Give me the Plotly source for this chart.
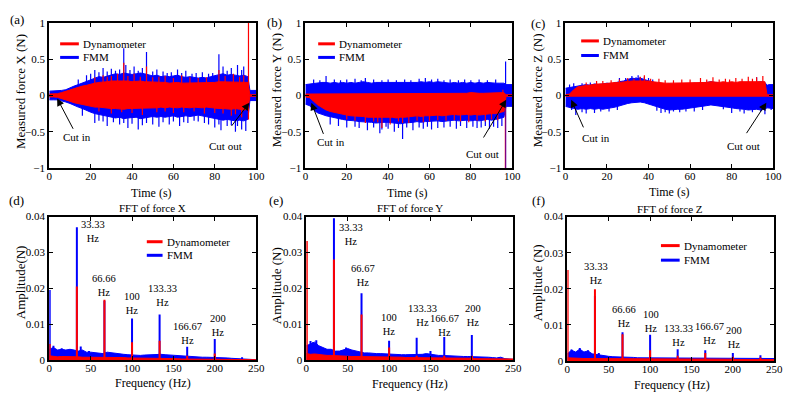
import plotly.graph_objects as go

W, H = 797, 401
FONT = "Liberation Serif, 'Times New Roman', Times, 'DejaVu Serif', serif"
RED = "#ff0000"
BLUE = "#0000ff"

# ---------------- time-domain data (envelopes) ----------------
TIME = [0, 2, 4, 6, 8, 10, 12, 14, 16, 18, 20, 22, 24, 26, 28, 30, 32, 34, 36, 38,
        40, 42, 44, 46, 48, 50, 52, 54, 56, 58, 60, 62, 64, 66, 68, 70, 72, 74, 76, 78,
        80, 82, 84, 86, 88, 90, 92, 94, 96, 97, 98, 100]

X_FMM_UP = [.06, .06, .06, .07, .08, .11, .13, .15, .17, .2, .22, .24, .26, .25, .27, .28, .3, .29, .31, .3,
            .29, .3, .31, .3, .28, .27, .28, .26, .27, .26, .27, .28, .26, .25, .26, .25, .24, .25, .24, .26,
            .27, .29, .3, .28, .29, .28, .27, .28, .26, .07, .07, .07]
X_FMM_LO = [-.06, -.06, -.06, -.07, -.09, -.11, -.13, -.16, -.18, -.2, -.23, -.25, -.27, -.28, -.29, -.3, -.31, -.3, -.32, -.31,
            -.3, -.3, -.32, -.31, -.3, -.29, -.3, -.29, -.3, -.29, -.28, -.3, -.29, -.28, -.29, -.28, -.27, -.28, -.29, -.3,
            -.31, -.33, -.34, -.33, -.34, -.35, -.34, -.35, -.33, -.07, -.07, -.07]
X_DYN_UP = [.02, .02, .025, .04, .06, .08, .1, .12, .13, .14, .16, .17, .18, .18, .19, .2, .2, .21, .2, .2,
            .19, .2, .2, .19, .19, .18, .19, .18, .18, .17, .18, .18, .17, .17, .18, .17, .17, .18, .17, .18,
            .18, .19, .19, .18, .19, .18, .18, .19, .18, .01, .01, .01]
X_DYN_LO = [-.02, -.02, -.025, -.04, -.06, -.08, -.1, -.11, -.12, -.13, -.15, -.16, -.16, -.17, -.17, -.18, -.18, -.18, -.19, -.18,
            -.18, -.17, -.18, -.18, -.17, -.17, -.17, -.16, -.17, -.16, -.16, -.17, -.16, -.16, -.17, -.16, -.16, -.17, -.16, -.17,
            -.17, -.18, -.18, -.18, -.19, -.18, -.19, -.2, -.19, -.01, -.01, -.01]
X_FMM_SPIKE_T = [14, 18, 20, 22, 24, 26, 28, 30, 32, 34, 36, 37, 39, 41, 43, 45, 47, 50, 52, 55,
                 57, 59, 62, 64, 66, 69, 71, 74, 77, 79, 82, 84, 86, 88, 91, 93, 94,
                 16, 22, 24, 26, 28, 31, 34, 36, 38, 40, 43, 45, 47, 50, 53, 55, 58, 60, 63, 65,
                 67, 70, 72, 75, 77, 80, 82, 83, 86, 88, 90, 91, 93, 95]
X_FMM_SPIKE_V = [.22, .28, .3, .35, .32, .38, .33, .37, .34, .36, .65, .42, .35, .4, .34, .38, .6, .33, .36, .33,
                 .31, .32, .36, .31, .34, .3, .31, .32, .3, .31, .57, .4, .34, .38, .42, .35, .4,
                 -.28, -.38, -.35, -.36, -.42, -.37, -.4, -.38, -.45, -.39, -.47, -.41, -.38, -.4, -.43, -.37, -.4, -.36, -.42, -.37,
                 -.38, -.35, -.36, -.38, -.4, -.44, -.4, -.48, -.42, -.41, -.5, -.42, -.47, -.49]
X_DYN_SPIKE_T = [22, 26, 28, 30, 33, 36, 38, 41, 44, 47, 50, 53, 56, 60, 64, 68, 72, 76, 82, 85, 89, 92, 94, 96.3,
                 24, 30, 35, 40, 45, 52, 56, 60, 65, 70, 75, 80, 84, 88, 90, 93, 96.3]
X_DYN_SPIKE_V = [.25, .28, .26, .27, .3, .45, .27, .3, .26, .4, .25, .26, .27, .24, .28, .25, .24, .25, .35, .27, .3, .26, .28, 1.0,
                 -.22, -.25, -.23, -.24, -.27, -.23, -.22, -.24, -.23, -.22, -.25, -.24, -.25, -.28, -.26, -.3, -.33]

Y_FMM_UP = [.15, .16, .17, .17, .18, .18, .17, .18, .17, .18, .17, .18, .17, .18, .19, .18, .17, .18, .18, .17,
            .18, .17, .18, .17, .18, .17, .18, .18, .19, .18, .19, .18, .19, .18, .18, .17, .18, .17, .18, .17,
            .18, .17, .18, .17, .18, .17, .17, .17, .17, .15, .15, .15]
Y_FMM_LO = [-.12, -.14, -.2, -.24, -.26, -.28, -.3, -.31, -.32, -.33, -.34, -.35, -.35, -.36, -.36, -.37, -.37, -.38, -.38, -.37,
            -.37, -.38, -.38, -.39, -.38, -.37, -.37, -.36, -.37, -.36, -.36, -.35, -.35, -.36, -.35, -.35, -.34, -.35, -.35, -.34,
            -.35, -.34, -.35, -.34, -.33, -.34, -.33, -.32, -.3, -.15, -.15, -.15]
Y_DYN_UP = [.02, .02, .03, .03, .03, .02, .03, .03, .03, .03, .02, .03, .03, .03, .03, .03, .02, .03, .03, .03,
            .03, .03, .02, .03, .03, .03, .03, .03, .03, .02, .03, .03, .03, .03, .03, .02, .03, .03, .03, .03,
            .04, .03, .03, .03, .03, .04, .03, .04, .04, .01, .01, .01]
Y_DYN_LO = [-.02, -.03, -.08, -.13, -.17, -.2, -.22, -.24, -.25, -.26, -.27, -.28, -.28, -.29, -.29, -.3, -.3, -.3, -.31, -.3,
            -.3, -.3, -.31, -.3, -.3, -.29, -.29, -.28, -.29, -.28, -.28, -.28, -.27, -.28, -.27, -.27, -.26, -.27, -.27, -.26,
            -.27, -.26, -.27, -.26, -.26, -.25, -.25, -.24, -.22, -.01, -.01, -.01]
Y_FMM_SPIKE_T = [4, 7, 10, 14, 17, 20, 24, 27, 29, 33, 37, 40, 44, 48, 51, 55, 58, 61, 64, 67, 70, 74, 77, 80, 84, 88, 92, 96.8,
                 12, 16, 20, 24, 26, 30, 33, 36, 37, 39, 40, 43, 45, 47, 49, 52, 55, 57, 59, 61, 64, 67, 70, 73, 75, 78,
                 81, 83, 85, 87, 89, 91, 93, 95, 96.8]
Y_FMM_SPIKE_V = [.22, .21, .27, .22, .21, .22, .23, .21, .24, .22, .21, .22, .21, .22, .21, .23, .24, .22, .23, .21, .22, .21, .22, .21, .22, .21, .22, .47,
                 -.4, -.42, -.44, -.43, -.45, -.48, -.44, -.52, -.47, -.43, -.46, -.5, -.45, -.6, -.44, -.48, -.44, -.46, -.43, -.47, -.45, -.44, -.43, -.46, -.42, -.45,
                 -.43, -.45, -.44, -.42, -.46, -.43, -.45, -.42, -1.0]
Y_DYN_SPIKE_T = [20, 24, 29, 33, 35, 37, 41, 45, 47, 50, 54, 57, 60, 64, 68, 72, 75, 79, 83, 87, 90, 93, 95.5]
Y_DYN_SPIKE_V = [-.33, -.35, -.38, -.36, -.37, -.45, -.4, -.36, -.38, -.38, -.35, -.37, -.36, -.34, -.35, -.34, -.36, -.37, -.35, -.36, -.33, -.34, .08]
Y_DYN_DROP_T = [96.7]
Y_DYN_DROP_V = [-1.0]

Z_FMM_UP = [.1, .11, .13, .14, .14, .15, .14, .16, .15, .16, .17, .16, .18, .19, .2, .22, .24, .23, .24, .22,
            .2, .18, .17, .16, .15, .16, .15, .16, .16, .15, .16, .17, .16, .17, .18, .19, .18, .17, .16, .17,
            .16, .17, .16, .17, .18, .17, .18, .19, .18, .14, .15, .15]
Z_FMM_LO = [-.15, -.16, -.18, -.19, -.18, -.19, -.18, -.19, -.18, -.19, -.18, -.17, -.16, -.15, -.13, -.11, -.1, -.09, -.09, -.1,
            -.11, -.13, -.15, -.17, -.19, -.2, -.2, -.19, -.19, -.18, -.17, -.16, -.15, -.15, -.14, -.13, -.13, -.14, -.15, -.16,
            -.17, -.18, -.19, -.19, -.2, -.2, -.19, -.2, -.19, -.17, -.17, -.18]
Z_DYN_UP = [.01, .02, .08, .12, .13, .14, .15, .15, .16, .16, .17, .17, .18, .18, .19, .19, .2, .2, .2, .21,
            .2, .19, .18, .18, .17, .17, .17, .18, .17, .17, .18, .18, .17, .18, .18, .19, .18, .18, .19, .18,
            .19, .18, .19, .19, .2, .19, .2, .2, .19, .01, .01, .01]
Z_DYN_LO = [-.01, -.01, -.02, -.02, -.02, -.02, -.02, -.02, -.02, -.02, -.02, -.02, -.02, -.02, -.02, -.02, -.02, -.02, -.02, -.02,
            -.02, -.02, -.02, -.02, -.02, -.02, -.02, -.02, -.02, -.02, -.02, -.02, -.02, -.02, -.02, -.02, -.02, -.02, -.02, -.02,
            -.02, -.02, -.02, -.02, -.02, -.02, -.02, -.02, -.02, -.01, -.01, -.01]
Z_FMM_SPIKE_T = [2, 4, 8, 12, 26, 29, 32, 34, 35, 36, 38, 40, 42, 92,
                 3, 5, 8, 10, 14, 17, 21, 25, 44, 46, 48, 50, 52, 55, 58, 62, 66, 76, 80, 84, 86, 90, 94, 96, 99]
Z_FMM_SPIKE_V = [.15, .17, .17, .18, .24, .24, .27, .25, .28, .25, .26, .24, .22, .25,
                 -.2, -.27, -.23, -.25, -.24, -.22, -.22, -.2, -.21, -.24, -.23, -.25, -.22, -.23, -.22, -.22, -.2, -.19, -.24, -.22, -.25, -.23, -.22, -.26, -.2]
Z_DYN_SPIKE_T = [10, 15, 18, 22, 26, 30, 33, 36, 38, 41, 45, 48, 52, 56, 60, 65, 68, 71, 74, 77, 79, 82, 85, 88, 90, 92, 95]
Z_DYN_SPIKE_V = [.18, .2, .2, .21, .22, .24, .23, .26, .28, .23, .23, .21, .21, .22, .22, .24, .22, .25, .22, .23, .22, .24, .23, .26, .23, .25, .27]

# ---------------- frequency-domain data ----------------
FREQ = [0, 5, 10, 15, 20, 25, 30, 35, 40, 45, 50, 55, 60, 65, 70, 75, 80, 85, 90, 95,
        100, 105, 110, 115, 120, 125, 130, 135, 140, 145, 150, 155, 160, 165, 170, 175, 180, 185, 190, 195,
        200, 205, 210, 215, 220, 225, 230, 235, 240, 245, 250]

FX_FMM_FLOOR = [.003, .0035, .0028, .003, .0028, .003, .0028, .0025, .0028, .0022, .0022, .002, .002, .0018, .0022, .002, .0018, .0016, .0016, .0015,
                .0014, .0014, .0013, .0014, .0015, .0016, .0017, .0016, .0015, .0014, .0013, .0012, .0011, .001, .001, .0009, .0009, .0008, .0008, .0008,
                .0007, .0007, .0008, .0006, .0005, .0004, .0004, .0003, .0002, .0002, .0001]
FX_DYN_FLOOR = [.0012, .001, .0009, .001, .001, .0011, .001, .0009, .0008, .0008, .0008, .0008, .0008, .0008, .0009, .0008, .0008, .0007, .0007, .0006,
                .0006, .0005, .0005, .0005, .0005, .0005, .0005, .0005, .0004, .0004, .0004, .0004, .0003, .0003, .0003, .0003, .0003, .0003, .0003, .0003,
                .0003, .0003, .0002, .0002, .0002, .0002, .0002, .0002, .0002, .0002, .0001]
FX_FMM_PEAK_F = [0.5, 5, 15, 33.33, 38, 48, 66.66, 100, 133.33, 166.67, 200, 233]
FX_FMM_PEAK_A = [.0195, .004, .0033, .037, .0038, .0025, .0165, .0116, .0127, .0037, .0059, .0008]
FX_DYN_PEAK_F = [0.5, 33.33, 66.66, 100, 133.33, 166.67, 200]
FX_DYN_PEAK_A = [.0045, .0205, .0168, .005, .0054, .0012, .0018]

FY_FMM_FLOOR = [.004, .0045, .005, .004, .0035, .003, .003, .0025, .0025, .0028, .0032, .0028, .0025, .0022, .002, .002, .0018, .0018, .0018, .0017,
                .0016, .0016, .0015, .0015, .0015, .0015, .0015, .0016, .0016, .0018, .0016, .0014, .0013, .0013, .0012, .0012, .0011, .0011, .001, .001,
                .001, .0009, .0009, .0008, .0008, .0007, .0006, .0008, .0004, .0003, .0002]
FY_DYN_FLOOR = [.0018, .0016, .0017, .0015, .0014, .0013, .0013, .0012, .0011, .0011, .0011, .001, .001, .001, .001, .001, .0009, .0009, .0009, .0009,
                .0008, .0008, .0008, .0008, .0007, .0007, .0007, .0007, .0007, .0006, .0006, .0006, .0006, .0006, .0005, .0005, .0005, .0005, .0005, .0005,
                .0005, .0004, .0004, .0004, .0004, .0004, .0003, .0003, .0003, .0003, .0003]
FY_FMM_PEAK_F = [5, 8, 12, 33.33, 48, 66.67, 100, 133.33, 150, 166.67, 200, 233]
FY_FMM_PEAK_A = [.0053, .005, .0055, .0395, .0035, .0186, .0054, .0062, .0025, .0064, .007, .0008]
FY_DYN_PEAK_F = [0.5, 33.33, 66.67, 100, 133.33, 166.67, 200]
FY_DYN_PEAK_A = [.0332, .028, .0127, .0035, .0012, .0012, .0012]

FZ_FMM_FLOOR = [.002, .003, .0025, .0033, .0025, .0028, .002, .0018, .0015, .0014, .0013, .0012, .0012, .001, .001, .001, .001, .0009, .0009, .0009,
                .0009, .0009, .0008, .0008, .0008, .0008, .0008, .0008, .0008, .0008, .0008, .0008, .0008, .0008, .0008, .0008, .0008, .0008, .0008, .0008,
                .0008, .0007, .0007, .0007, .0007, .0007, .0007, .0007, .0007, .0007, .0007]
FZ_DYN_FLOOR = [.0009, .0008, .0008, .0008, .0007, .0007, .0007, .0007, .0006, .0006, .0006, .0006, .0006, .0006, .0006, .0006, .0006, .0006, .0006, .0006,
                .0005, .0005, .0005, .0005, .0005, .0005, .0005, .0005, .0005, .0005, .0005, .0005, .0005, .0005, .0005, .0005, .0005, .0005, .0005, .0005,
                .0005, .0004, .0004, .0004, .0004, .0004, .0004, .0004, .0004, .0004, .0004]
FZ_FMM_PEAK_F = [5, 15, 25, 33.33, 38, 66.66, 100, 133.33, 166.67, 200, 233.33]
FZ_FMM_PEAK_A = [.0032, .0036, .003, .018, .0022, .008, .0073, .0033, .003, .0022, .0016]
FZ_DYN_PEAK_F = [0.3, 33.33, 66.66, 100, 133.33, 166.67, 200, 233.33]
FZ_DYN_PEAK_A = [.0252, .0199, .0074, .003, .0015, .0022, .0012, .001]

TIME_TICKS = [0, 20, 40, 60, 80, 100]
FORCE_TICKS = [-1, -0.5, 0, 0.5, 1]
FREQ_TICKS = [0, 50, 100, 150, 200, 250]
AMP_TICKS = [0, 0.01, 0.02, 0.03, 0.04]

HARMONIC_LABELS_X = ["33.33", "66.66", "100", "133.33", "166.67", "200"]
HARMONIC_LABELS_Y = ["33.33", "66.67", "100", "133.33", "166.67", "200"]
HARMONIC_LABELS_Z = ["33.33", "66.66", "100", "133.33", "166.67", "200"]

# ---------------- layout (pixel boxes) ----------------
PANELS = [
    dict(k=1, px=(47, 257), py=(17.5, 167)),
    dict(k=2, px=(307, 517), py=(17.5, 167)),
    dict(k=3, px=(571, 782), py=(17.5, 167)),
    dict(k=4, px=(47, 257), py=(217, 365)),
    dict(k=5, px=(308, 518), py=(217, 365)),
    dict(k=6, px=(573, 783), py=(217, 366)),
]

fig = go.Figure()


def ax(k):
    return ("x" if k == 1 else f"x{k}"), ("y" if k == 1 else f"y{k}")


def add_band(k, t, up, lo, color):
    pts = list(zip(t, up, lo))
    xs = [p[0] for p in pts] + [p[0] for p in reversed(pts)]
    ys = [p[1] for p in pts] + [p[2] for p in reversed(pts)]
    xa, ya = ax(k)
    fig.add_trace(go.Scatter(x=xs, y=ys, mode="lines", fill="toself", fillcolor=color,
                             line=dict(color=color, width=1), xaxis=xa, yaxis=ya,
                             showlegend=False, hoverinfo="skip"))


def add_spikes(k, ts, vs, color, width, opacity=1.0):
    xs, ys = [], []
    for t, v in zip(ts, vs):
        xs += [t, t, None]
        ys += [0, v, None]
    xa, ya = ax(k)
    fig.add_trace(go.Scatter(x=xs, y=ys, mode="lines", line=dict(color=color, width=width),
                             opacity=opacity, xaxis=xa, yaxis=ya, showlegend=False, hoverinfo="skip"))


def add_floor(k, f, a, color):
    xa, ya = ax(k)
    fig.add_trace(go.Scatter(x=f, y=a, mode="lines", fill="tozeroy", fillcolor=color,
                             line=dict(color=color, width=1), xaxis=xa, yaxis=ya,
                             showlegend=False, hoverinfo="skip"))


# time panels
add_band(1, TIME, X_FMM_UP, X_FMM_LO, BLUE)
add_spikes(1, X_FMM_SPIKE_T, X_FMM_SPIKE_V, BLUE, 1.2)
add_band(1, TIME, X_DYN_UP, X_DYN_LO, RED)
add_spikes(1, X_DYN_SPIKE_T, X_DYN_SPIKE_V, RED, 1.2)

add_band(2, TIME, Y_FMM_UP, Y_FMM_LO, BLUE)
add_spikes(2, Y_FMM_SPIKE_T, Y_FMM_SPIKE_V, BLUE, 1.2)
add_band(2, TIME, Y_DYN_UP, Y_DYN_LO, RED)
add_spikes(2, Y_DYN_SPIKE_T, Y_DYN_SPIKE_V, RED, 1.2)
add_spikes(2, Y_DYN_DROP_T, Y_DYN_DROP_V, RED, 1.6, opacity=0.5)

add_band(3, TIME, Z_FMM_UP, Z_FMM_LO, BLUE)
add_spikes(3, Z_FMM_SPIKE_T, Z_FMM_SPIKE_V, BLUE, 1.2)
add_band(3, TIME, Z_DYN_UP, Z_DYN_LO, RED)
add_spikes(3, Z_DYN_SPIKE_T, Z_DYN_SPIKE_V, RED, 1.2)

# FFT panels
add_floor(4, FREQ, FX_FMM_FLOOR, BLUE)
add_spikes(4, FX_FMM_PEAK_F, FX_FMM_PEAK_A, BLUE, 2)
add_floor(4, FREQ, FX_DYN_FLOOR, RED)
add_spikes(4, FX_DYN_PEAK_F, FX_DYN_PEAK_A, RED, 2)

add_floor(5, FREQ, FY_FMM_FLOOR, BLUE)
add_spikes(5, FY_FMM_PEAK_F, FY_FMM_PEAK_A, BLUE, 2)
add_floor(5, FREQ, FY_DYN_FLOOR, RED)
add_spikes(5, FY_DYN_PEAK_F, FY_DYN_PEAK_A, RED, 2)

add_floor(6, FREQ, FZ_FMM_FLOOR, BLUE)
add_spikes(6, FZ_FMM_PEAK_F, FZ_FMM_PEAK_A, BLUE, 2)
add_floor(6, FREQ, FZ_DYN_FLOOR, RED)
add_spikes(6, FZ_DYN_PEAK_F, FZ_DYN_PEAK_A, RED, 2)

# axes
common = dict(showline=True, linewidth=2, linecolor="black", mirror="ticks", ticks="inside",
              ticklen=4, tickwidth=1, tickcolor="black", showgrid=False, zeroline=False,
              tickfont=dict(family=FONT, size=11, color="black"))
layout = {}
for p in PANELS:
    k = p["k"]
    sx = "" if k == 1 else str(k)
    xd = [p["px"][0] / W, p["px"][1] / W]
    yd = [1 - p["py"][1] / H, 1 - p["py"][0] / H]
    if k <= 3:
        xr, xt, yr, yt = [0, 100], TIME_TICKS, [-1, 1], FORCE_TICKS
    else:
        xr, xt, yr, yt = [0, 250], FREQ_TICKS, [0, 0.04], AMP_TICKS
    layout["xaxis" + sx] = dict(common, domain=xd, range=xr, tickvals=xt, anchor="y" + sx,
                                ticklabelstandoff=-3)
    layout["yaxis" + sx] = dict(common, domain=yd, range=yr, tickvals=yt, anchor="x" + sx)

fig.update_layout(**layout)
fig.update_layout(width=W, height=H, margin=dict(l=0, r=0, t=0, b=0),
                  paper_bgcolor="white", plot_bgcolor="white", showlegend=False)

ann = []


def ptxt(xp, yp, text, size=11, xanchor="center", angle=0):
    ann.append(dict(x=xp / W, y=1 - yp / H, xref="paper", yref="paper", text=text,
                    showarrow=False, xanchor=xanchor, yanchor="middle", textangle=angle,
                    font=dict(family=FONT, size=size, color="black")))


# panel letters
for lbl, xp, yp in [("(a)", 14, 14), ("(b)", 276, 17), ("(c)", 543, 18),
                    ("(d)", 14, 200), ("(e)", 277, 200), ("(f)", 544, 200)]:
    ptxt(xp, yp, lbl, size=13)

# axis titles
for text, xp, yp in [("Measured force X (N)", 18, 88), ("Measured force Y (N)", 278, 87),
                     ("Measured force Z (N)", 543, 87), ("Amplitude(N)", 18, 285),
                     ("Amplitude (N)", 278, 288), ("Amplitude (N)", 543, 285)]:
    ptxt(xp, yp, text, size=13, angle=-90)
for text, xp, yp in [("Time (s)", 151, 193), ("Time (s)", 411, 193), ("Time (s)", 677, 192),
                     ("Frequency (Hz)", 152, 389), ("Frequency (Hz)", 413, 390),
                     ("Frequency (Hz)", 679, 391)]:
    ptxt(xp, yp, text, size=12)
for text, xp, yp in [("FFT of force X", 152, 208), ("FFT of force Y", 413, 208),
                     ("FFT of force Z", 677, 209)]:
    ptxt(xp, yp, text, size=11)

# legends (manual, inside axes)
shapes = []
for x0, x1, y1, y2 in [(58, 77, 39, 53), (320, 337, 39, 53), (587, 605, 36, 51),
                       (146, 162, 243, 257), (668, 687, 247, 262)]:
    for yy, col, name in [(y1, RED, "Dynamometer"), (y2, BLUE, "FMM")]:
        shapes.append(dict(type="line", xref="paper", yref="paper", x0=x0 / W, x1=x1 / W,
                           y0=1 - yy / H, y1=1 - yy / H, line=dict(color=col, width=3)))
        ptxt(x1 + 2, yy, name, size=11, xanchor="left")

# cut in / cut out arrows (data coords)
CUTS = [
    (1, (3.8, -0.04), (11.9, -0.48), (13.3, -0.57), (96.7, -0.10), (87.6, -0.44), (85.2, -0.69)),
    (2, (2.9, -0.10), (9.0, -0.55), (12.4, -0.64), (97.1, -0.06), (85.7, -0.60), (85.7, -0.81)),
    (3, (2.8, -0.06), (9.0, -0.46), (14.7, -0.58), (96.7, -0.10), (86.7, -0.54), (85.8, -0.69)),
]
for k, tip1, tail1, txt1, tip2, tail2, txt2 in CUTS:
    xa, ya = ax(k)
    for tip, tail, tp, label in [(tip1, tail1, txt1, "Cut in"), (tip2, tail2, txt2, "Cut out")]:
        ann.append(dict(x=tip[0], y=tip[1], ax=tail[0], ay=tail[1], xref=xa, yref=ya,
                        axref=xa, ayref=ya, text="", showarrow=True, arrowhead=2,
                        arrowsize=1.5, arrowwidth=1, arrowcolor="black", standoff=0))
        ann.append(dict(x=tp[0], y=tp[1], xref=xa, yref=ya, text=label, showarrow=False,
                        font=dict(family=FONT, size=11, color="black")))

# harmonic labels (data coords)
HPOS = {
    4: [(52.4, 0.0357), (66.7, 0.0208), (100, 0.0157), (136.9, 0.0181), (166.7, 0.0073), (203.6, 0.0097)],
    5: [(53.6, 0.0351), (67.9, 0.0235), (100, 0.0100), (140.5, 0.0124), (166.7, 0.0097), (202, 0.0124)],
    6: [(34.5, 0.0242), (68, 0.0123), (101, 0.0110), (134.5, 0.0072), (171.4, 0.0075), (201, 0.0064)],
}
for k, labels in [(4, HARMONIC_LABELS_X), (5, HARMONIC_LABELS_Y), (6, HARMONIC_LABELS_Z)]:
    xa, ya = ax(k)
    for lbl, (hx, hy) in zip(labels, HPOS[k]):
        ann.append(dict(x=hx, y=hy, xref=xa, yref=ya, text=lbl + "<br>Hz", showarrow=False,
                        align="center", font=dict(family=FONT, size=10.5, color="black")))

fig.update_layout(annotations=ann, shapes=shapes)
fig.write_html("out.html")
